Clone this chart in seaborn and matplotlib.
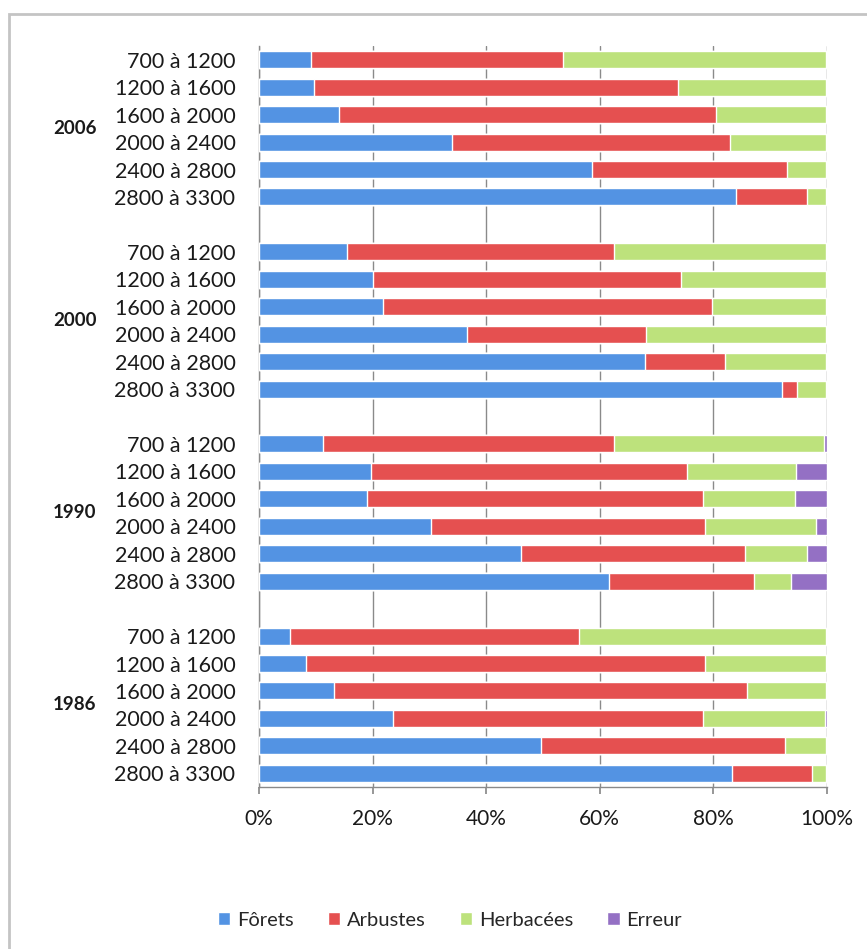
import pandas as pd
import matplotlib.pyplot as plt
import seaborn as sns
from matplotlib.patches import Patch, Rectangle
from matplotlib.transforms import blended_transform_factory

# Groups (top to bottom) and altitude bands
years = ["2006", "2000", "1990", "1986"]
bands = ["700 à 1200", "1200 à 1600", "1600 à 2000",
         "2000 à 2400", "2400 à 2800", "2800 à 3300"]

# Shares in % (6 bands per year, years in the order above)
forets = [9.2, 9.7, 14.0, 34.0, 58.7, 84.0,
          15.5, 20.0, 21.9, 36.7, 67.9, 92.0,
          11.3, 19.7, 19.0, 30.2, 46.2, 61.6,
          5.4, 8.2, 13.2, 23.6, 49.7, 83.3]
arbustes = [44.4, 64.1, 66.4, 49.0, 34.2, 12.4,
            47.0, 54.3, 57.8, 31.5, 14.2, 2.7,
            51.2, 55.7, 59.2, 48.3, 39.4, 25.5,
            51.0, 70.3, 72.7, 54.6, 42.9, 14.1]
herbacees = [46.2, 26.0, 19.4, 16.8, 6.9, 3.4,
             37.3, 25.5, 20.1, 31.6, 17.7, 5.1,
             36.9, 19.1, 16.1, 19.6, 10.8, 6.5,
             43.4, 21.3, 13.9, 21.5, 7.2, 2.4]
erreur = [0.2, 0.2, 0.2, 0.2, 0.2, 0.2,
          0.2, 0.2, 0.2, 0.2, 0.2, 0.2,
          0.6, 5.5, 5.7, 1.9, 3.6, 6.4,
          0.2, 0.2, 0.2, 0.3, 0.2, 0.2]

series = ["Fôrets", "Arbustes", "Herbacées", "Erreur"]
colors = ["#5393e3", "#e55050", "#bde27c", "#9470c4"]

rows = [f"{y}|{b}" for y in years for b in bands]
df = pd.DataFrame({"row": rows, "Fôrets": forets, "Arbustes": arbustes,
                   "Herbacées": herbacees, "Erreur": erreur})

# order with empty spacer slots between year groups
order = []
for i, y in enumerate(years):
    if i > 0:
        order.append(f"gap{i}")
    order += [f"{y}|{b}" for b in bands]

sns.set_theme(style="white")
plt.rcParams["font.family"] = ["Lato", "DejaVu Sans"]

fig = plt.figure(figsize=(8.67, 9.49), dpi=100)
ax = fig.add_axes([259 / 867, 1 - 787 / 949, 568 / 867, (787 - 46) / 949])

# stacked bars: draw cumulative totals, widest first
cum = df[series].cumsum(axis=1)
for s, c in reversed(list(zip(series, colors))):
    sns.barplot(x=cum[s], y=df["row"], order=order, color=c, width=0.62,
                saturation=1, orient="h", ax=ax, zorder=3)

ax.set_xlim(0, 100)
ax.set_ylim(len(order) - 0.5, -0.5)
ax.set_xticks([0, 20, 40, 60, 80, 100])
ax.set_xticklabels([f"{v}%" for v in range(0, 101, 20)])
ax.grid(axis="x", color="#8a8a8a", linewidth=1, zorder=0)
ax.grid(axis="y", visible=False)

ylabels = [o.split("|")[1] if "|" in o else "" for o in order]
ax.set_yticks(range(len(order)))
ax.set_yticklabels(ylabels)
ax.set_xlabel("")
ax.set_ylabel("")

for sp in ["top", "right"]:
    ax.spines[sp].set_visible(False)
for sp in ["left", "bottom"]:
    ax.spines[sp].set_color("#8a8a8a")
    ax.spines[sp].set_linewidth(1)

ax.tick_params(axis="x", bottom=True, length=5, color="#8a8a8a", pad=11,
               labelsize=15, labelcolor="#1a1a1a")
ax.tick_params(axis="y", left=False, pad=11, labelsize=15.5, labelcolor="#1a1a1a")

# year group labels
trans = blended_transform_factory(ax.transAxes, ax.transData)
for i, y in enumerate(years):
    center = i * 7 + 2.5
    ax.text(-0.324, center, y, transform=trans, ha="center", va="center",
            fontsize=13.5, fontweight="bold", color="#1a1a1a")

# legend
handles = [Patch(facecolor=c, label=s) for s, c in zip(series, colors)]
fig.legend(handles=handles, loc="center", bbox_to_anchor=(450 / 867, 1 - 920 / 949),
           ncol=4, frameon=False, fontsize=14.5, handlelength=0.6, handleheight=0.6,
           handletextpad=0.35, columnspacing=1.7)

# chart frame
fig.patches.append(Rectangle((9 / 867, -0.05), 1.0, 1 - 14 / 949 + 0.05,
                             transform=fig.transFigure, fill=False,
                             edgecolor="#c4c4c4", linewidth=2))

fig.savefig("out.png", dpi=100)
